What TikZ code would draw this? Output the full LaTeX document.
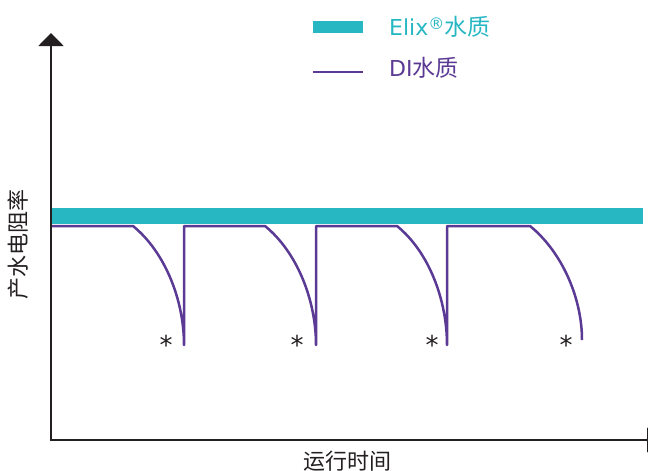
\documentclass[tikz,border=0pt]{standalone}
\usepackage{fontspec}
\setmainfont{DejaVu Sans}
\newfontfamily\cjkfont{Noto Sans CJK SC}
\usetikzlibrary{arrows.meta}
\definecolor{elix}{HTML}{27B7C3}
\definecolor{di}{HTML}{5A3A94}
\definecolor{axisc}{HTML}{231F20}
\begin{document}
\begin{tikzpicture}[x=1pt,y=-1pt,
  axisline/.style={draw=axisc,line width=2pt,-{Triangle[width=25pt,length=13pt]}},
  diline/.style={draw=di,line width=2.5pt,line join=round},
  band/.style={fill=elix},
  lbl/.style={font=\fontsize{22}{24}\selectfont\cjkfont,text=axisc,inner sep=0pt},
  legtext/.style={font=\fontsize{22}{24}\selectfont,inner sep=0pt,anchor=west},
  star/.style={font=\fontsize{26}{28}\selectfont,text=axisc,inner sep=0pt,anchor=north}]
\useasboundingbox (0,0) rectangle (648,471);
\clip (0,0) rectangle (648,471);
% axes
\coordinate (o) at (51,440);
\coordinate (ytip) at (51,33);
\coordinate (xtip) at (660,440);
\draw[axisline] ([yshift=1pt]o) -- (ytip);
\draw[axisline] ([xshift=-1pt]o) -- (xtip);
% Elix band
\fill[band] (52,208) rectangle (643,224);
% DI line
\draw[diline] (52,226) -- (133,226) .. controls (165,252) and (184,300) .. (184,345)
  -- (184,226) -- (265,226) .. controls (297,252) and (316,300) .. (316,345)
  -- (316,226) -- (397,226) .. controls (429,252) and (447,300) .. (447,345)
  -- (447,226) -- (530,226) .. controls (562,252) and (582,298) .. (582,340);
% asterisks
\node[star] (s1) at (166,335) {*};
\node[star] (s2) at (297,335) {*};
\node[star] (s3) at (432,335) {*};
\node[star] (s4) at (566,335) {*};
% legend
\fill[band] (313,21) rectangle (363,33);
\draw[diline] (313,72) -- (363,72);
\node[legtext,text=elix] (l1) at (389,27) {Elix\raisebox{0.3em}{\fontsize{16}{18}\selectfont\textregistered}{\fontsize{23}{25}\selectfont\cjkfont 水质}};
\node[legtext,text=di] (l2) at (389,68) {DI{\fontsize{23}{25}\selectfont\cjkfont 水质}};
% axis labels
\node[lbl,rotate=90] (yl) at (18,244) {产水电阻率};
\node[lbl] (xl) at (347,461) {运行时间};
\end{tikzpicture}
\end{document}
